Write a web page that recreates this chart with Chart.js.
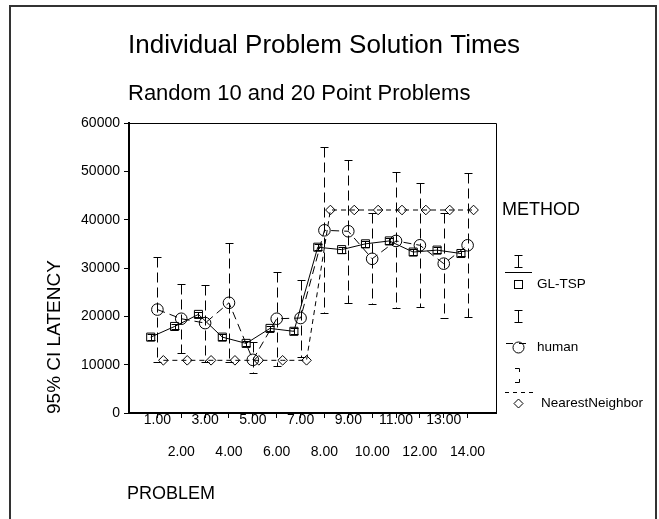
<!DOCTYPE html>
<html lang="en">
<head>
<meta charset="UTF-8">
<title>Individual Problem Solution Times</title>
<style>
  html, body { margin: 0; padding: 0; background: #fff; }
  #wrap { width: 659px; height: 519px; }
</style>
</head>
<body>
<div id="wrap"><canvas id="chartTimes" width="659" height="519"></canvas></div>

<script src="https://cdn.jsdelivr.net/npm/chart.js"></script>
<script>
// values (95% CI of latency per problem)
const problems = [1, 2, 3, 4, 5, 6, 7, 8, 9, 10, 11, 12, 13, 14];
const xTickLabels = ['1.00', '2.00', '3.00', '4.00', '5.00', '6.00', '7.00',
                     '8.00', '9.00', '10.00', '11.00', '12.00', '13.00', '14.00'];

const glTsp     = [15700, 17900, 20400, 15700, 14400, 17500, 16900, 34300, 33800, 35000, 35600, 33300, 33700, 33000];
const glTspLow  = [15100, 17300, 19800, 15100, 13800, 16900, 16300, 33700, 33200, 34400, 35000, 32700, 33100, 32400];
const glTspHigh = [16300, 18500, 21000, 16300, 15000, 18100, 17500, 34900, 34400, 35600, 36200, 33900, 34300, 33600];

const human     = [21400, 19500, 18600, 22800, 11000, 19500, 19650, 37800, 37600, 31900, 35600, 34700, 30900, 34700];
const humanLow  = [10500, 12400, 10500, 10500, 8200, 9700, 11600, 20600, 22700, 22500, 21700, 21900, 19700, 19900];
const humanHigh = [32200, 26600, 26400, 35200, 14700, 29200, 27600, 55000, 52400, 41400, 49900, 47500, 41400, 49700];

const nearest   = [10900, 10900, 10900, 10900, 10900, 10900, 10900, 42000, 42000, 42000, 42000, 42000, 42000, 42000];

const FONT = "'Liberation Sans', Arial, Helvetica, sans-serif";
Chart.defaults.font.family = FONT;
Chart.defaults.color = '#000';

function px(v) { return Math.round(v) + 0.5; }

// error bars: dashed/solid stem with solid caps
const errorBars = {
    id: 'errorBars',
    beforeDatasetsDraw(chart) {
        const ctx = chart.ctx;
        const x = chart.scales.x, y = chart.scales.y;
        chart.data.datasets.forEach(ds => {
            if (!ds.errLow) return;
            ctx.save();
            ctx.strokeStyle = '#000';
            ctx.lineWidth = 1;
            ds.data.forEach((pt, i) => {
                const cx = px(x.getPixelForValue(pt.x));
                const top = px(y.getPixelForValue(ds.errHigh[i]));
                const bot = px(y.getPixelForValue(ds.errLow[i]));
                ctx.setLineDash(ds.errDash);
                ctx.beginPath();
                ctx.moveTo(cx, top);
                ctx.lineTo(cx, bot);
                ctx.stroke();
                ctx.setLineDash([]);
                ctx.beginPath();
                ctx.moveTo(cx - 4, top); ctx.lineTo(cx + 4, top);
                ctx.moveTo(cx - 4, bot); ctx.lineTo(cx + 4, bot);
                ctx.stroke();
            });
            ctx.restore();
        });
    }
};

// frame, titles, axis titles and the SPSS style legend
const decorations = {
    id: 'decorations',
    afterDraw(chart) {
        const ctx = chart.ctx;
        const a = chart.chartArea;
        ctx.save();

        // outer frame (open at the bottom)
        ctx.strokeStyle = '#333';
        ctx.lineWidth = 2;
        ctx.beginPath();
        ctx.moveTo(10, 519); ctx.lineTo(10, 6); ctx.lineTo(656, 6); ctx.lineTo(656, 519);
        ctx.stroke();

        // top and right side of the plot box
        ctx.strokeStyle = '#000';
        ctx.lineWidth = 1;
        ctx.beginPath();
        ctx.moveTo(px(a.left), px(a.top)); ctx.lineTo(px(a.right), px(a.top)); ctx.lineTo(px(a.right), a.bottom);
        ctx.stroke();

        ctx.fillStyle = '#000';
        ctx.textBaseline = 'alphabetic';
        ctx.textAlign = 'left';
        ctx.font = '26px ' + FONT;
        ctx.fillText('Individual Problem Solution Times', 128, 53);
        ctx.font = '22px ' + FONT;
        ctx.fillText('Random 10 and 20 Point Problems', 128, 100);

        ctx.font = '18px ' + FONT;
        ctx.textBaseline = 'middle';
        ctx.fillText('PROBLEM', 127, 494);
        ctx.fillText('METHOD', 502, 210);

        ctx.save();
        ctx.translate(55, 414);
        ctx.rotate(-Math.PI / 2);
        ctx.font = '19px ' + FONT;
        ctx.fillText('95% CI LATENCY', 0, 0);
        ctx.restore();

        // legend
        const lx = 518.5;
        ctx.lineWidth = 1;
        function capBar(y1, y2) {
            ctx.beginPath(); ctx.moveTo(lx, y1); ctx.lineTo(lx, y2); ctx.stroke();
            ctx.beginPath();
            ctx.moveTo(lx - 4, y1); ctx.lineTo(lx + 4, y1);
            ctx.moveTo(lx - 4, y2); ctx.lineTo(lx + 4, y2);
            ctx.stroke();
        }
        capBar(255.5, 267.5);
        capBar(310.5, 322.5);
        // zero width bar of NearestNeighbor
        ctx.beginPath();
        ctx.moveTo(515, 368.5); ctx.lineTo(519.5, 368.5); ctx.lineTo(519.5, 372);
        ctx.moveTo(515, 382.5); ctx.lineTo(519.5, 382.5); ctx.lineTo(519.5, 379);
        ctx.stroke();

        // series lines
        ctx.beginPath(); ctx.moveTo(505, 272.5); ctx.lineTo(532, 272.5); ctx.stroke();
        ctx.setLineDash([7, 6]);
        ctx.beginPath(); ctx.moveTo(506, 343.5); ctx.lineTo(532, 343.5); ctx.stroke();
        ctx.setLineDash([4, 4]);
        ctx.beginPath(); ctx.moveTo(505, 392.5); ctx.lineTo(534, 392.5); ctx.stroke();
        ctx.setLineDash([]);

        // markers
        ctx.strokeRect(514.5, 280.5, 8, 8);
        ctx.beginPath(); ctx.arc(518.5, 347.5, 5.5, 0, Math.PI * 2); ctx.stroke();
        ctx.beginPath();
        ctx.moveTo(514, 403.5); ctx.lineTo(518.5, 399); ctx.lineTo(523, 403.5); ctx.lineTo(518.5, 408);
        ctx.closePath(); ctx.stroke();

        ctx.font = '13.5px ' + FONT;
        ctx.fillText('GL-TSP', 537, 284);
        ctx.fillText('human', 537, 347);
        ctx.fillText('NearestNeighbor', 541, 403);

        ctx.restore();
    }
};

const ctx = document.getElementById('chartTimes').getContext('2d');

new Chart(ctx, {
    type: 'line',
    data: {
        datasets: [
            {
                label: 'GL-TSP',
                data: problems.map((p, i) => ({ x: p - 0.28, y: glTsp[i] })),
                errLow: glTspLow,
                errHigh: glTspHigh,
                errDash: [],
                borderColor: '#000',
                borderWidth: 1,
                pointStyle: 'rect',
                pointRadius: 5.7,
                pointBorderColor: '#000',
                pointBackgroundColor: 'rgba(0,0,0,0)',
                pointBorderWidth: 1
            },
            {
                label: 'human',
                data: problems.map((p, i) => ({ x: p, y: human[i] })),
                errLow: humanLow,
                errHigh: humanHigh,
                errDash: [10, 5],
                borderColor: '#000',
                borderWidth: 1,
                borderDash: [8, 5],
                pointStyle: 'circle',
                pointRadius: 5.8,
                pointBorderColor: '#000',
                pointBackgroundColor: 'rgba(0,0,0,0)',
                pointBorderWidth: 1
            },
            {
                label: 'NearestNeighbor',
                data: problems.map((p, i) => ({ x: p + 0.25, y: nearest[i] })),
                borderColor: '#000',
                borderWidth: 1,
                borderDash: [5, 4],
                pointStyle: 'rectRot',
                pointRadius: 4.8,
                pointBorderColor: '#000',
                pointBackgroundColor: 'rgba(0,0,0,0)',
                pointBorderWidth: 1
            }
        ]
    },
    options: {
        responsive: false,
        animation: false,
        devicePixelRatio: 1,
        layout: { padding: { left: 0, top: 123, right: 163, bottom: 0 } },
        elements: { line: { tension: 0 } },
        plugins: {
            legend: { display: false },
            tooltip: { enabled: false }
        },
        scales: {
            x: {
                type: 'linear',
                min: -0.19,
                max: 15.19,
                afterBuildTicks: (scale) => { scale.ticks = problems.map(v => ({ value: v })); },
                afterFit: (scale) => { scale.height = 106; },
                border: { display: true, color: '#000', width: 2 },
                grid: { display: true, drawOnChartArea: false, drawTicks: true, tickLength: 5, color: '#000' },
                ticks: {
                    autoSkip: false,
                    maxRotation: 0,
                    padding: -14,
                    font: { size: 14, lineHeight: '32px' },
                    callback: (value, index) => index % 2 === 0 ? xTickLabels[index] : ['', xTickLabels[index]]
                }
            },
            y: {
                min: 0,
                max: 60000,
                afterFit: (scale) => { scale.width = 129; },
                border: { display: true, color: '#000', width: 2 },
                grid: { display: true, drawOnChartArea: false, drawTicks: true, tickLength: 5, color: '#000' },
                ticks: {
                    stepSize: 10000,
                    padding: 4,
                    font: { size: 14 },
                    callback: (value) => String(value)
                }
            }
        }
    },
    plugins: [errorBars, decorations]
});
</script>
</body>
</html>
